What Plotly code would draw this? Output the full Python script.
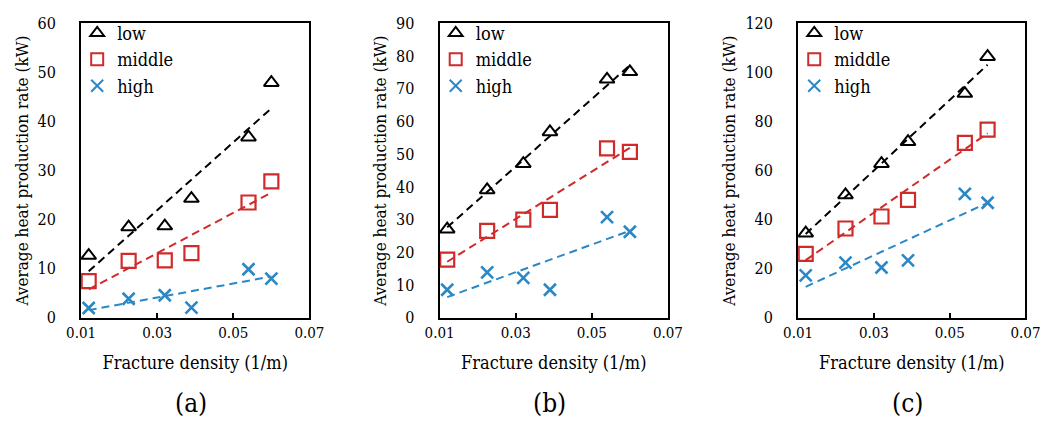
import numpy as np
import plotly.graph_objects as go

# ---------------- data ----------------
fracture_density = [0.012, 0.0225, 0.032, 0.039, 0.054, 0.060]

a_low = [12.7, 18.5, 18.7, 24.3, 36.8, 47.9]
a_middle = [7.5, 11.6, 11.7, 13.2, 23.5, 27.8]
a_high = [2.0, 3.9, 4.6, 2.1, 9.9, 8.0]

b_low = [27.1, 39.1, 47.1, 56.8, 72.9, 75.2]
b_middle = [17.8, 26.6, 30.0, 33.0, 51.8, 50.7]
b_high = [8.6, 13.9, 12.2, 8.6, 30.8, 26.3]

c_low = [34.5, 50.1, 62.8, 71.8, 91.4, 106.4]
c_middle = [26.1, 36.4, 41.3, 48.1, 71.3, 76.7]
c_high = [17.3, 22.5, 20.5, 23.4, 50.5, 46.9]

series_names = ["low", "middle", "high"]
panel_labels = ["(a)", "(b)", "(c)"]
y_max = [60, 90, 120]
y_dtick = [10, 10, 20]
x_ticks = [0.01, 0.03, 0.05, 0.07]

# ---------------- style ----------------
W, H = 1057, 434
FONT = "DejaVu Serif Condensed, DejaVu Serif"
colors = ["#000000", "#D02A2A", "#2A88C6"]
symbols = ["triangle-up-open", "square-open", "x-thin-open"]
msizes = [13, 14, 12]
mwidths = [2, 2.2, 2.6]

panels = [
    [a_low, a_middle, a_high],
    [b_low, b_middle, b_high],
    [c_low, c_middle, c_high],
]
x_px = [(68, 303), (437, 672), (806, 1040)]
y_px = (15, 323)

fig = go.Figure()
legend_names = ["legend", "legend2", "legend3"]

for p, data in enumerate(panels):
    xa = "x" if p == 0 else f"x{p+1}"
    ya = "y" if p == 0 else f"y{p+1}"
    for s, vals in enumerate(data):
        # linear trend line fitted to the series (dashed)
        k, b = np.polyfit(fracture_density, vals, 1)
        xs = [min(fracture_density), max(fracture_density)]
        fig.add_trace(go.Scatter(
            x=xs, y=[k * xv + b for xv in xs], mode="lines",
            line=dict(color=colors[s], width=2, dash="8px,5px"),
            xaxis=xa, yaxis=ya, showlegend=False, hoverinfo="skip"))
    for s, vals in enumerate(data):
        fig.add_trace(go.Scatter(
            x=fracture_density, y=vals, mode="markers", name=series_names[s],
            marker=dict(symbol=symbols[s], size=msizes[s], color=colors[s],
                        line=dict(color=colors[s], width=mwidths[s])),
            xaxis=xa, yaxis=ya, legend=legend_names[p]))

layout = dict(
    width=W, height=H,
    margin=dict(l=0, r=0, t=0, b=0),
    paper_bgcolor="white", plot_bgcolor="white",
    font=dict(family=FONT, size=15, color="black"),
    showlegend=True,
)

for p in range(3):
    xk = "xaxis" if p == 0 else f"xaxis{p+1}"
    yk = "yaxis" if p == 0 else f"yaxis{p+1}"
    xa_id = "x" if p == 0 else f"x{p+1}"
    ya_id = "y" if p == 0 else f"y{p+1}"
    layout[xk] = dict(
        domain=[x_px[p][0] / W, x_px[p][1] / W], anchor=ya_id,
        range=[0.01, 0.07], tickvals=x_ticks, tickformat=".2f",
        showline=True, mirror=True, linecolor="black", linewidth=2,
        ticks="inside", ticklen=5, tickwidth=1.5, tickcolor="black",
        showgrid=False, zeroline=False,
        tickfont=dict(family=FONT, size=15),
        title=dict(text="Fracture density (1/m)", font=dict(family=FONT, size=18), standoff=16),
    )
    layout[yk] = dict(
        domain=[1 - y_px[1] / H, 1 - y_px[0] / H], anchor=xa_id,
        range=[0, y_max[p]], dtick=y_dtick[p],
        showline=True, mirror=True, linecolor="black", linewidth=2,
        ticks="inside", ticklen=0, tickcolor="black",
        showgrid=False, zeroline=False,
        ticklabelstandoff=20,
        tickfont=dict(family=FONT, size=16),
        title=dict(text="Average heat production rate (kW)", font=dict(family=FONT, size=17), standoff=5),
    )
    ln = legend_names[p]
    layout[ln] = dict(
        x=(x_px[p][0] - 4) / W, xanchor="left",
        y=1 - 6 / H, yanchor="top",
        bgcolor="rgba(255,255,255,0)", borderwidth=0,
        font=dict(family=FONT, size=18, color="black"),
        itemsizing="constant", tracegroupgap=0,
    )

fig.update_layout(**layout)

for p in range(3):
    cx = (x_px[p][0] + x_px[p][1]) / 2 / W
    fig.add_annotation(text=panel_labels[p], x=cx - 0.004, y=1 - 412 / H,
                       xref="paper", yref="paper", showarrow=False,
                       xanchor="center", yanchor="middle",
                       font=dict(family=FONT, size=26, color="black"))

fig.write_html("out.html")
